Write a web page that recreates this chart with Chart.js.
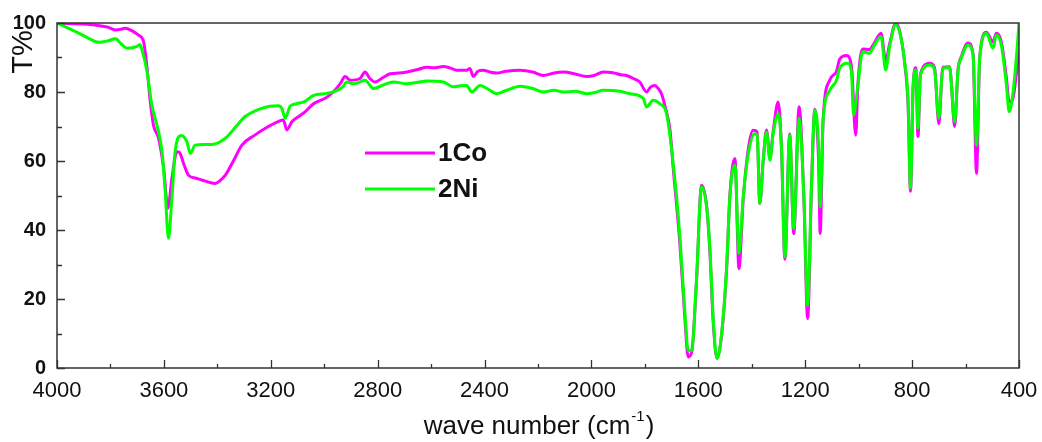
<!DOCTYPE html>
<html>
<head>
<meta charset="utf-8">
<script src="https://cdn.jsdelivr.net/npm/chart.js@4"></script>
<style>
  html, body { margin: 0; padding: 0; background: #fff; }
  #wrap { width: 1042px; height: 442px; }
</style>
</head>
<body>
<div id="wrap"><canvas id="irChart"></canvas></div>
<script>
// series names
const seriesNames = ["1Co", "2Ni"];

// 1Co spectrum (wave number, T%)
const coWave = [4000, 3930, 3857, 3810, 3782, 3760, 3745, 3720, 3695, 3676, 3663, 3651, 3639, 3620, 3601, 3585, 3570, 3551, 3542, 3525, 3508, 3480, 3458, 3430, 3408, 3390, 3370, 3340, 3308, 3260, 3209, 3170, 3153, 3140, 3121, 3090, 3074, 3040, 2990, 2960, 2940, 2922, 2903, 2866, 2847, 2830, 2810, 2780, 2753, 2720, 2691, 2650, 2616, 2591, 2554, 2530, 2504, 2467, 2455, 2442, 2425, 2405, 2380, 2354, 2320, 2267, 2220, 2180, 2140, 2105, 2060, 2018, 1990, 1956, 1920, 1890, 1869, 1840, 1819, 1794, 1778, 1763, 1750, 1738, 1725, 1706, 1694, 1669, 1650, 1638, 1625, 1607, 1588, 1569, 1557, 1544, 1530, 1513, 1494, 1482, 1463, 1448, 1432, 1413, 1395, 1380, 1370, 1357, 1345, 1332, 1320, 1301, 1289, 1276, 1258, 1243, 1223, 1205, 1191, 1176, 1164, 1150, 1144, 1133, 1108, 1083, 1071, 1046, 1027, 1011, 1003, 985, 959, 947, 916, 899, 884, 862, 847, 828, 815, 806, 796, 786, 778, 769, 734, 716, 700, 685, 660, 653, 641, 628, 616, 591, 572, 559, 547, 522, 497, 485, 466, 447, 437, 425, 410, 400];
const coT = [100, 99.8, 99.4, 98.8, 98, 98.2, 98.5, 97.8, 96.5, 94.6, 86.9, 77.2, 70.4, 66.6, 57.9, 46.3, 55, 62.7, 62.5, 59, 55.9, 55, 54.5, 53.8, 53.5, 54.3, 55.9, 60, 64.6, 67.5, 70, 71.5, 71.9, 69, 71.4, 73.2, 74.1, 76.6, 78.5, 80.5, 82.4, 84.5, 83.4, 83.9, 85.8, 84, 82.9, 84.2, 85.3, 85.5, 85.8, 86.5, 87.2, 87, 87.4, 87, 86.3, 86.3, 86.8, 84.5, 86, 86.3, 85.8, 85.5, 86, 86.3, 85.8, 84.8, 85.5, 85.8, 85.2, 84.5, 84.8, 85.8, 85.6, 85, 84.8, 83.8, 82.9, 80, 81.5, 81.9, 81, 79.5, 76, 68.9, 58, 36, 14, 3.2, 4.5, 25, 53, 47, 34, 13, 2.8, 9.5, 29, 50, 60.7, 28.8, 49, 63.5, 68.9, 68.5, 47.7, 60.5, 69, 61, 68.5, 77.1, 64, 31.5, 67.8, 38.9, 75.7, 49, 14.3, 54, 75, 60, 39, 72, 83.5, 86, 89.5, 90.6, 87.5, 67.5, 82, 92.5, 92.3, 93.5, 97, 89, 94, 99.8, 97.8, 88.5, 76, 51.2, 82, 87, 67.1, 85.2, 88.3, 87, 70.8, 87.2, 87.3, 82.5, 70, 86.5, 90.2, 94.2, 91, 56.4, 90, 97.3, 94.5, 97, 94.5, 84, 77.2, 77.5, 85, 92];

// 2Ni spectrum (wave number, T%)
const niWave = [4000, 3930, 3880, 3844, 3810, 3782, 3760, 3738, 3701, 3690, 3682, 3663, 3645, 3626, 3607, 3595, 3583, 3570, 3558, 3535, 3514, 3501, 3483, 3450, 3420, 3370, 3330, 3296, 3250, 3209, 3170, 3159, 3146, 3128, 3103, 3074, 3040, 2990, 2966, 2930, 2916, 2891, 2870, 2847, 2816, 2780, 2741, 2691, 2650, 2616, 2554, 2517, 2490, 2467, 2448, 2417, 2390, 2354, 2317, 2267, 2220, 2180, 2140, 2105, 2060, 2018, 1990, 1956, 1900, 1856, 1806, 1794, 1769, 1744, 1719, 1694, 1669, 1650, 1638, 1625, 1607, 1588, 1569, 1557, 1544, 1530, 1513, 1494, 1482, 1463, 1448, 1432, 1413, 1389, 1380, 1370, 1357, 1345, 1332, 1320, 1301, 1289, 1276, 1258, 1243, 1223, 1205, 1191, 1176, 1164, 1150, 1144, 1133, 1108, 1083, 1071, 1040, 1027, 1019, 1003, 985, 959, 947, 916, 899, 884, 862, 847, 828, 815, 806, 796, 786, 778, 769, 734, 716, 700, 685, 660, 641, 628, 616, 591, 572, 559, 547, 522, 497, 485, 466, 447, 437, 422, 410, 400];
const niT = [100, 97.5, 95.5, 94.4, 94.8, 95.4, 94, 92.7, 93.2, 93.8, 92.2, 85.9, 76.2, 70.4, 62.7, 51.1, 37.6, 49.2, 62.7, 67.4, 65.6, 62.2, 64.6, 64.8, 64.8, 66.6, 70, 72.9, 74.8, 75.8, 76, 75.3, 72.4, 75.8, 76.6, 77.2, 79, 79.6, 80, 81.5, 82.9, 82.4, 82.8, 83.4, 81, 82, 82.9, 82.4, 82.8, 83.2, 82.9, 81.5, 81.8, 81.9, 80, 81.9, 81, 79.5, 80.5, 81.7, 81, 80, 80.5, 80, 80.2, 79.5, 79.8, 80.5, 80.3, 79.5, 78.1, 75.7, 77.6, 76.6, 73.7, 59.2, 38, 15.8, 5, 5.1, 25.4, 52.5, 46.7, 35.1, 13.8, 2.8, 10, 29.3, 49.6, 58.8, 33.2, 49.6, 62.1, 67.9, 67.5, 47.7, 60.2, 68.4, 60.2, 67.9, 73.7, 64.1, 32.2, 67.5, 40.4, 72.3, 49.6, 18.2, 54.4, 74.7, 64.1, 46.7, 71.8, 80.5, 83.4, 86.9, 88.3, 85.9, 73.3, 82, 91.7, 91.2, 92.7, 96.1, 86.4, 93.2, 99.4, 97.5, 88.8, 77.2, 52.1, 82, 86.4, 69.5, 84.9, 87.8, 86.4, 72.4, 86.9, 87.1, 71.4, 86.4, 89.8, 93.6, 90.7, 64.6, 89.8, 97, 92.7, 96.5, 93.6, 82, 74.3, 80.1, 89.8, 99.9];

// tick labels
const xTicks = [4000, 3600, 3200, 2800, 2400, 2000, 1600, 1200, 800, 400];
const yTicks = [0, 20, 40, 60, 80, 100];

const toPoints = (xs, ys) => xs.map((x, i) => ({ x: x, y: ys[i] }));

// frame, inward ticks, axis titles and legend
const decorPlugin = {
  id: "decor",
  afterDatasetsDraw(chart) {
    const { ctx, chartArea: a, scales } = chart;
    ctx.save();
    ctx.strokeStyle = "#333";
    ctx.lineWidth = 1.5;
    ctx.strokeRect(a.left, a.top, a.right - a.left, a.bottom - a.top);

    ctx.lineWidth = 1.3;
    ctx.beginPath();
    for (let v = 0; v <= 100; v += 10) {
      const y = Math.round(scales.y.getPixelForValue(v)) + 0.5;
      const len = v % 20 === 0 ? 8 : 5;
      ctx.moveTo(a.left, y);
      ctx.lineTo(a.left + len, y);
    }
    for (let v = 400; v <= 4000; v += 200) {
      const x = Math.round(scales.x.getPixelForValue(v)) + 0.5;
      const len = v % 400 === 0 ? 8 : 4;
      ctx.moveTo(x, a.bottom);
      ctx.lineTo(x, a.bottom - len);
    }
    ctx.stroke();

    // y title
    ctx.fillStyle = "#111";
    ctx.translate(24, 52);
    ctx.rotate(-Math.PI / 2);
    ctx.font = "29px 'Liberation Sans', Arial, sans-serif";
    ctx.textAlign = "center";
    ctx.textBaseline = "middle";
    ctx.fillText("T%", 0, 0);
    ctx.restore();

    // x title with superscript
    ctx.save();
    ctx.fillStyle = "#111";
    ctx.textBaseline = "alphabetic";
    ctx.textAlign = "left";
    const big = "26px 'Liberation Sans', Arial, sans-serif";
    const small = "15px 'Liberation Sans', Arial, sans-serif";
    const p1 = "wave number (cm", p2 = "-1", p3 = ")";
    ctx.font = big; const w1 = ctx.measureText(p1).width, w3 = ctx.measureText(p3).width;
    ctx.font = small; const w2 = ctx.measureText(p2).width;
    let x0 = (a.left + a.right) / 2 - (w1 + w2 + w3) / 2;
    const base = 434;
    ctx.font = big; ctx.fillText(p1, x0, base);
    ctx.font = small; ctx.fillText(p2, x0 + w1 + 1, base - 13);
    ctx.font = big; ctx.fillText(p3, x0 + w1 + w2 + 2, base);

    // legend
    const legendY = [153, 189];
    chart.data.datasets.forEach((ds, i) => {
      ctx.strokeStyle = ds.borderColor;
      ctx.lineWidth = 3;
      ctx.beginPath();
      ctx.moveTo(365, legendY[i]);
      ctx.lineTo(435, legendY[i]);
      ctx.stroke();
      ctx.fillStyle = "#111";
      ctx.font = "bold 26px 'Liberation Sans', Arial, sans-serif";
      ctx.textBaseline = "middle";
      ctx.fillText(ds.label, 438, legendY[i] + 1);
    });
    ctx.restore();
  }
};

new Chart(document.getElementById("irChart"), {
  type: "line",
  data: {
    datasets: [
      {
        label: seriesNames[0],
        data: toPoints(coWave, coT),
        borderColor: "#ff00ff",
        borderWidth: 3,
        pointRadius: 0,
        cubicInterpolationMode: "monotone",
        order: 2
      },
      {
        label: seriesNames[1],
        data: toPoints(niWave, niT),
        borderColor: "#00ff00",
        borderWidth: 3,
        pointRadius: 0,
        cubicInterpolationMode: "monotone",
        order: 1
      }
    ]
  },
  options: {
    responsive: true,
    maintainAspectRatio: false,
    animation: false,
    layout: { padding: { top: 23, right: 23, left: 0, bottom: 0 } },
    plugins: { legend: { display: false }, tooltip: { enabled: false } },
    scales: {
      x: {
        type: "linear",
        reverse: true,
        min: 400,
        max: 4000,
        grid: { display: false, drawTicks: false },
        border: { display: false },
        afterBuildTicks: (axis) => { axis.ticks = xTicks.map((v) => ({ value: v })); },
        afterFit: (scale) => {
          scale.height = 74;
          scale.paddingLeft = 0;
          scale.paddingRight = 0;
        },
        ticks: {
          padding: 10,
          color: "#111",
          maxRotation: 0,
          font: { family: "'Liberation Sans', Arial, sans-serif", size: 22 },
          callback: (v) => String(v)
        }
      },
      y: {
        min: 0,
        max: 100,
        grid: { display: false, drawTicks: false },
        border: { display: false },
        afterBuildTicks: (axis) => { axis.ticks = yTicks.map((v) => ({ value: v })); },
        afterFit: (scale) => { scale.width = 57; },
        ticks: {
          padding: 11,
          color: "#111",
          font: { family: "'Liberation Sans', Arial, sans-serif", size: 20, weight: "bold" },
          callback: (v) => String(v)
        }
      }
    }
  },
  plugins: [decorPlugin]
});
</script>
</body>
</html>
